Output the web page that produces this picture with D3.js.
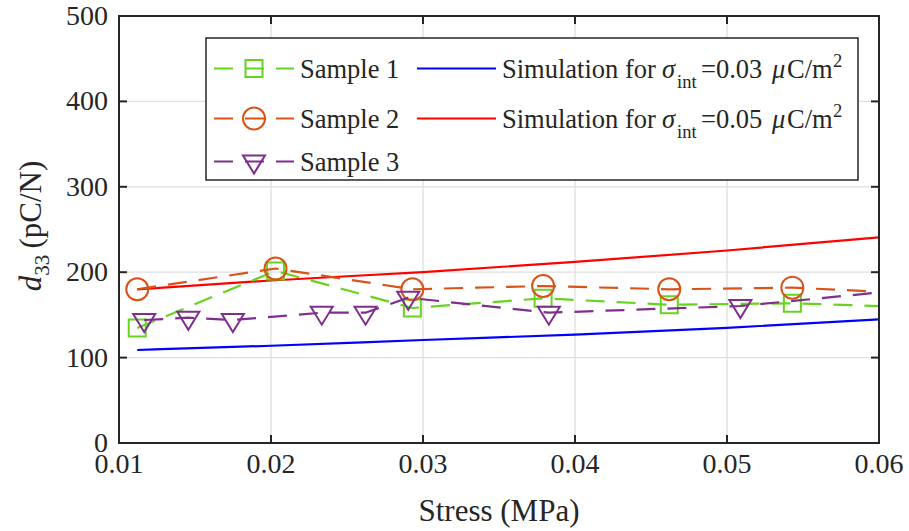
<!DOCTYPE html>
<html><head><meta charset="utf-8">
<script src="https://cdn.jsdelivr.net/npm/d3@7"></script>
</head><body style="margin:0;background:#fff">
<svg id="chart" width="909" height="531" style="display:block"></svg>
<script>
// ---------- data ----------
const xTicks = [0.01, 0.02, 0.03, 0.04, 0.05, 0.06];
const yTicks = [0, 100, 200, 300, 400, 500];
const xTickLabels = ["0.01", "0.02", "0.03", "0.04", "0.05", "0.06"];
const yTickLabels = ["0", "100", "200", "300", "400", "500"];

// Sample 1 (last point lies beyond the x-limit, clipped)
const sample1X = [0.0112, 0.0203, 0.0293, 0.0379, 0.0462, 0.0543, 0.0626];
const sample1Y = [134.7, 201.5, 158.1, 169.4, 161.9, 163.6, 158.9];
// Sample 2
const sample2X = [0.0112, 0.0203, 0.0293, 0.0379, 0.0462, 0.0543, 0.0626];
const sample2Y = [180.0, 204.3, 180.0, 183.8, 180.0, 181.9, 175.0];
// Sample 3
const sample3X = [0.01166, 0.01456, 0.01749, 0.02334, 0.02622, 0.02903, 0.03828, 0.05088, 0.0635];
const sample3Y = [144.0, 146.7, 144.0, 152.6, 152.6, 170.1, 152.6, 160.4, 182.3];

// Simulations
const simX = [0.0112, 0.02, 0.03, 0.04, 0.05, 0.06];
const sim003Y = [108.9, 113.9, 120.6, 127.0, 134.9, 144.8];
const sim005Y = [180.0, 190.3, 200.2, 212.0, 225.4, 240.9];

const seriesNames = ["Sample 1", "Sample 2", "Sample 3"];
const simSigma = ["0.03", "0.05"];

// ---------- layout ----------
const L = 119, R = 879, T = 16, B = 443;
const FONT = '"Liberation Serif"';
const axisColor = "#262626";
const gridColor = "#dfdfdf";
const cGreen = "#66d41e", cOrange = "#d95319", cPurple = "#7e2f8e";
const cBlue = "#0000ff", cRed = "#ff0000";
const dash = "19,12";

const svg = d3.select("#chart");
const x = d3.scaleLinear().domain([0.01, 0.06]).range([L, R]);
const y = d3.scaleLinear().domain([0, 500]).range([B, T]);

function txt(sel) {
  return sel.append("text").style("font-family", FONT).style("fill", axisColor);
}

svg.append("defs").append("clipPath").attr("id", "clip")
  .append("rect").attr("x", L).attr("y", T).attr("width", R - L).attr("height", B - T);

// grid
const grid = svg.append("g");
grid.selectAll(".gx").data(xTicks.slice(1, -1)).join("line")
  .attr("x1", d => x(d)).attr("x2", d => x(d)).attr("y1", T).attr("y2", B)
  .attr("stroke", gridColor).attr("stroke-width", 1.3);
grid.selectAll(".gy").data(yTicks.slice(1, -1)).join("line")
  .attr("x1", L).attr("x2", R).attr("y1", d => y(d)).attr("y2", d => y(d))
  .attr("stroke", gridColor).attr("stroke-width", 1.3);

// data
const plot = svg.append("g").attr("clip-path", "url(#clip)");
const lineGen = d3.line().x(d => x(d[0])).y(d => y(d[1]));
const simLine = d3.line().x(d => x(d[0])).y(d => y(d[1])).curve(d3.curveMonotoneX);

plot.append("path").datum(d3.zip(simX, sim003Y)).attr("d", simLine)
  .attr("fill", "none").attr("stroke", cBlue).attr("stroke-width", 2.2);
plot.append("path").datum(d3.zip(simX, sim005Y)).attr("d", simLine)
  .attr("fill", "none").attr("stroke", cRed).attr("stroke-width", 2.2);

function markerPath(type) {
  if (type === "square") {
    const h = 8.5;
    return `M${-h},${-h}H${h}V${h}H${-h}Z`;
  } else if (type === "circle") {
    const r = 11;
    return `M${r},0A${r},${r} 0 1,1 ${-r},0A${r},${r} 0 1,1 ${r},0Z`;
  } else {
    const hw = 11, h = 18;
    return `M${-hw},${-h / 3}H${hw}L0,${2 * h / 3}Z`;
  }
}

const samples = [
  {X: sample1X, Y: sample1Y, color: cGreen, marker: "square"},
  {X: sample2X, Y: sample2Y, color: cOrange, marker: "circle"},
  {X: sample3X, Y: sample3Y, color: cPurple, marker: "triangle"}
];
samples.forEach(s => {
  const pts = d3.zip(s.X, s.Y);
  plot.append("path").datum(pts).attr("d", lineGen)
    .attr("fill", "none").attr("stroke", s.color).attr("stroke-width", 2.2)
    .attr("stroke-dasharray", dash);
  plot.selectAll(null).data(pts.filter(p => p[0] <= 0.06)).join("path")
    .attr("transform", p => `translate(${x(p[0])},${y(p[1])})`)
    .attr("d", markerPath(s.marker))
    .attr("fill", "none").attr("stroke", s.color).attr("stroke-width", 2);
});

// axes box + ticks
const ax = svg.append("g");
ax.append("rect").attr("x", L).attr("y", T).attr("width", R - L).attr("height", B - T)
  .attr("fill", "none").attr("stroke", axisColor).attr("stroke-width", 2);
const tl = 8;
xTicks.forEach(t => {
  ax.append("line").attr("x1", x(t)).attr("x2", x(t)).attr("y1", B).attr("y2", B - tl).attr("stroke", axisColor).attr("stroke-width", 2);
  ax.append("line").attr("x1", x(t)).attr("x2", x(t)).attr("y1", T).attr("y2", T + tl).attr("stroke", axisColor).attr("stroke-width", 2);
});
yTicks.forEach(t => {
  ax.append("line").attr("x1", L).attr("x2", L + tl).attr("y1", y(t)).attr("y2", y(t)).attr("stroke", axisColor).attr("stroke-width", 2);
  ax.append("line").attr("x1", R).attr("x2", R - tl).attr("y1", y(t)).attr("y2", y(t)).attr("stroke", axisColor).attr("stroke-width", 2);
});
xTicks.forEach((d, i) => {
  txt(ax).attr("x", x(d)).attr("y", 473).attr("text-anchor", "middle")
    .attr("font-size", 28).text(xTickLabels[i]);
});
yTicks.forEach((d, i) => {
  txt(ax).attr("x", 108).attr("y", y(d) + 9).attr("text-anchor", "end")
    .attr("font-size", 28).text(yTickLabels[i]);
});

// axis labels
txt(svg).attr("x", (L + R) / 2).attr("y", 521).attr("text-anchor", "middle")
  .attr("font-size", 31).text("Stress (MPa)");
const yl = txt(svg).attr("transform", "translate(41,226) rotate(-90)")
  .attr("text-anchor", "middle").attr("font-size", 31);
yl.append("tspan").style("font-style", "italic").text("d");
yl.append("tspan").attr("font-size", 21).attr("dy", 8).text("33");
yl.append("tspan").attr("dy", -8).text("\u2009(pC/N)");

// legend
const lg = svg.append("g");
lg.append("rect").attr("x", 206).attr("y", 38).attr("width", 652).attr("height", 142)
  .attr("fill", "#fff").attr("stroke", axisColor).attr("stroke-width", 1.5);
const rowsY = [68.5, 118.5, 161.5];
samples.forEach((s, i) => {
  const ry = rowsY[i];
  lg.append("line").attr("x1", 214).attr("x2", 294).attr("y1", ry).attr("y2", ry)
    .attr("stroke", s.color).attr("stroke-width", 2.2).attr("stroke-dasharray", dash);
  lg.append("path").attr("transform", `translate(254,${ry})`).attr("d", markerPath(s.marker))
    .attr("fill", "none").attr("stroke", s.color).attr("stroke-width", 2);
  txt(lg).attr("x", 300).attr("y", ry + 9.5).attr("font-size", 26.5).text(seriesNames[i]);
});
const simColors = [cBlue, cRed];
simSigma.forEach((v, i) => {
  const ry = rowsY[i];
  lg.append("line").attr("x1", 417).attr("x2", 496).attr("y1", ry).attr("y2", ry)
    .attr("stroke", simColors[i]).attr("stroke-width", 2.2);
  const t = txt(lg).attr("x", 502).attr("y", ry + 9.5).attr("font-size", 26.5);
  t.append("tspan").text("Simulation for");
  t.append("tspan").attr("x", 662).style("font-style", "italic").text("\u03c3");
  t.append("tspan").attr("x", 677).attr("font-size", 18.5).attr("dy", 10).text("int");
  t.append("tspan").attr("x", 701).attr("dy", -10).text("=" + v);
  t.append("tspan").attr("x", 772).style("font-style", "italic").text("\u03bc");
  t.append("tspan").attr("x", 787).text("C/m");
  t.append("tspan").attr("x", 833).attr("font-size", 18.5).attr("dy", -11).text("2");
});
</script>
</body></html>
